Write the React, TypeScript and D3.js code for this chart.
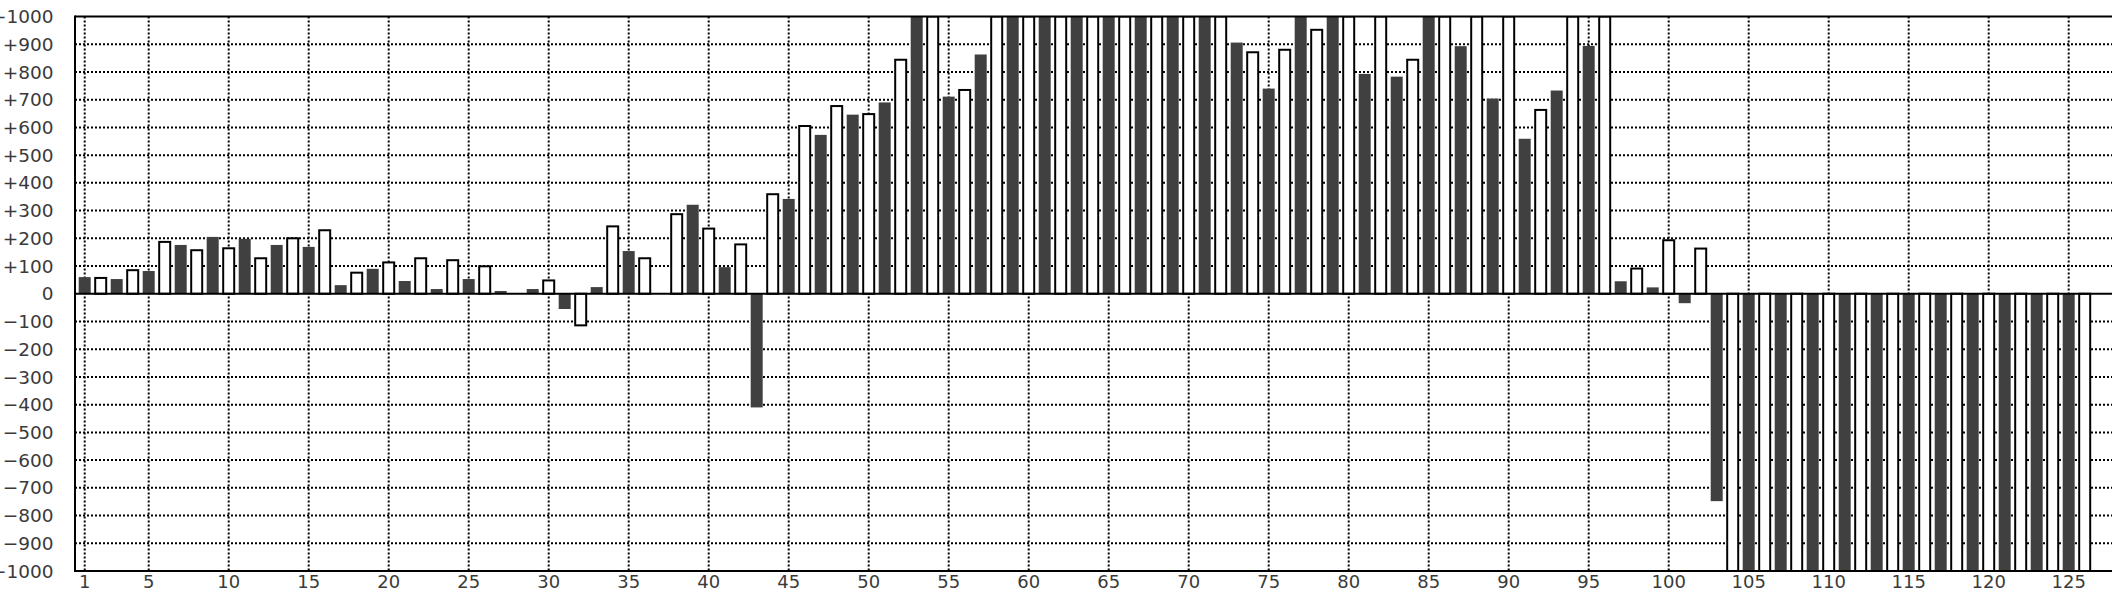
import React from 'react';
import * as d3 from 'd3';

// Values for categories 1..126 (bars beyond ±1000 are clipped by the plot frame)
const values: number[] = [
  60, 57, 53, 85, 82, 187, 176, 157, 205, 164,
  198, 128, 176, 200, 169, 229, 31, 76, 90, 113,
  46, 128, 17, 121, 53, 99, 10, 0, 17, 48,
  -55, -114, 24, 243, 154, 128, 0, 287, 321, 235,
  96, 178, -410, 359, 342, 605, 573, 677, 646, 648,
  690, 844, 1000, 1000, 711, 735, 863, 1000, 1000, 1000,
  1000, 1000, 1000, 1000, 1000, 1000, 1000, 1000, 1000, 1000,
  1000, 1000, 906, 871, 740, 880, 1000, 952, 1000, 1000,
  793, 1000, 783, 844, 1000, 1000, 893, 1000, 704, 1000,
  559, 663, 733, 1000, 894, 1000, 45, 91, 23, 193,
  -34, 163, -748, -1000, -1000, -1000, -1000, -1000, -1000, -1000,
  -1000, -1000, -1000, -1000, -1000, -1000, -1000, -1000, -1000, -1000,
  -1000, -1000, -1000, -1000, -1000, -1000,
];
const categories: number[] = values.map((_, i) => i + 1);
const xTickLabels: number[] = [1, 5, 10, 15, 20, 25, 30, 35, 40, 45, 50, 55, 60, 65, 70, 75, 80, 85, 90, 95, 100, 105, 110, 115, 120, 125];
const yTickValues: number[] = [1000, 900, 800, 700, 600, 500, 400, 300, 200, 100, 0, -100, -200, -300, -400, -500, -600, -700, -800, -900, -1000];

const W = 2112;
const H = 592;
const plotLeft = 75;
const plotTop = 16.5;
const plotBottom = 571;
const plotRight = 2160;

export default function App() {
  const x = d3.scaleLinear().domain([1, 126]).range([84.7, 2084.7]);
  const y = d3.scaleLinear().domain([-1000, 1000]).range([plotBottom, plotTop]);
  const fmt = (v: number) => (v > 0 ? `+${v}` : v < 0 ? `\u2212${-v}` : '0');
  const y0 = y(0);

  return (
    <svg
      width={W}
      height={H}
      style={{ position: 'absolute', left: 0, top: 0, display: 'block', background: '#fff' }}
      fontFamily="'DejaVu Sans', sans-serif"
    >
      <defs>
        <clipPath id="plotClip">
          <rect x={plotLeft} y={plotTop} width={plotRight - plotLeft} height={plotBottom - plotTop} />
        </clipPath>
      </defs>
      <rect x={0} y={0} width={W} height={H} fill="#fff" />
      {/* grid */}
      <g stroke="#000" strokeWidth={2} strokeDasharray="2,2" fill="none">
        {yTickValues
          .filter((v) => v !== 0 && Math.abs(v) !== 1000)
          .map((v) => (
            <line key={'hy' + v} x1={plotLeft} x2={plotRight} y1={y(v)} y2={y(v)} />
          ))}
        {xTickLabels.map((c) => (
          <line key={'vx' + c} x1={x(c)} x2={x(c)} y1={plotTop} y2={plotBottom} />
        ))}
      </g>
      {/* bars */}
      <g clipPath="url(#plotClip)">
        {categories.map((c, i) => {
          const v = values[i];
          if (v === 0) return null;
          const yv = y(v);
          const top = Math.min(yv, y0);
          const h = Math.abs(yv - y0);
          const dark = c % 2 === 1;
          return dark ? (
            <rect key={c} x={x(c) - 6} y={top} width={12} height={h} fill="#404040" />
          ) : (
            <rect key={c} x={x(c) - 5.5} y={top} width={11} height={h} fill="#fff" stroke="#000" strokeWidth={2} />
          );
        })}
      </g>
      {/* zero line and frame */}
      <line x1={plotLeft} x2={W} y1={y0} y2={y0} stroke="#000" strokeWidth={2} />
      <line x1={plotLeft} x2={W} y1={plotTop} y2={plotTop} stroke="#000" strokeWidth={2} />
      <line x1={plotLeft} x2={W} y1={plotBottom} y2={plotBottom} stroke="#000" strokeWidth={2} />
      <line x1={plotLeft} x2={plotLeft} y1={plotTop - 1} y2={plotBottom + 1} stroke="#000" strokeWidth={2} />
      {/* y labels */}
      <g fill="#3a3a3a" fontSize={18.5} textAnchor="end">
        {yTickValues.map((v) => (
          <text key={'yl' + v} x={53.5} y={y(v) + 6.6}>
            {fmt(v)}
          </text>
        ))}
      </g>
      {/* x labels */}
      <g fill="#3a3a3a" fontSize={18} textAnchor="middle">
        {xTickLabels.map((c) => (
          <text key={'xl' + c} x={x(c)} y={588}>
            {c}
          </text>
        ))}
      </g>
    </svg>
  );
}
